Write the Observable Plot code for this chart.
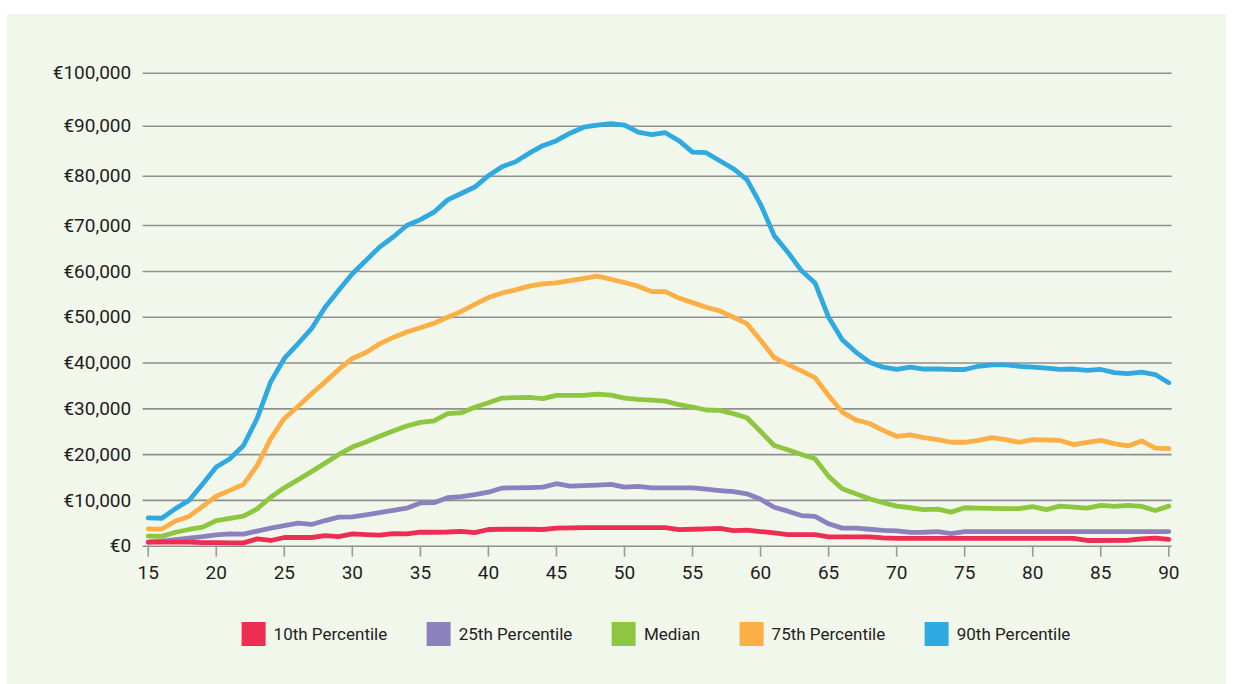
<!DOCTYPE html>
<html>
<head>
<meta charset="utf-8">
<script src="https://cdn.jsdelivr.net/npm/d3@7"></script>
<script src="https://cdn.jsdelivr.net/npm/@observablehq/plot@0.6"></script>
<style>
  html, body { margin: 0; padding: 0; background: #ffffff; }
  body { width: 1233px; height: 684px; position: relative; overflow: hidden; font-family: Roboto, "Noto Sans", sans-serif; }
  #panel { position: absolute; left: 7px; top: 14px; width: 1219px; height: 670px; background: #f2f7ec; }
  #chart { position: absolute; left: 0; top: 0; }
  #legend { position: absolute; top: 608px; left: 649px; transform: translateX(-50%); display: flex; align-items: center; gap: 39.5px; white-space: nowrap; }
  .item { display: flex; align-items: center; gap: 8px; font-size: 17px; color: #222; }
  .sw { width: 24px; height: 24px; display: inline-block; }
</style>
</head>
<body>
<div id="panel">
  <div id="chart"></div>
  <div id="legend"></div>
</div>
<script>
const ages = [15,16,17,18,19,20,21,22,23,24,25,26,27,28,29,30,31,32,33,34,35,36,37,38,39,40,41,42,43,44,45,46,47,48,49,50,51,52,53,54,55,56,57,58,59,60,61,62,63,64,65,66,67,68,69,70,71,72,73,74,75,76,77,78,79,80,81,82,83,84,85,86,87,88,89,90];

const p10 = [870,870,870,870,800,800,730,730,1600,1250,1900,1900,1900,2300,2100,2700,2550,2400,2750,2700,3050,3050,3100,3250,2950,3650,3700,3700,3700,3650,3950,4000,4050,4050,4050,4050,4050,4050,4050,3600,3700,3800,3900,3400,3500,3200,2900,2550,2550,2550,2050,2050,2050,2050,1800,1700,1700,1700,1700,1700,1700,1700,1700,1700,1700,1700,1700,1700,1700,1250,1250,1280,1300,1600,1750,1500];

const p25 = [900,1100,1450,1750,2100,2450,2700,2650,3300,3950,4500,5050,4750,5600,6350,6400,6850,7350,7850,8300,9450,9500,10600,10850,11250,11800,12700,12750,12800,12900,13650,13100,13250,13350,13500,12900,13050,12750,12750,12750,12750,12450,12150,11900,11450,10250,8500,7650,6700,6500,4900,3950,3950,3700,3450,3350,3000,3050,3200,2750,3200,3200,3200,3200,3200,3200,3200,3200,3200,3200,3200,3200,3200,3200,3200,3200];

const median = [2200,2150,3050,3650,4150,5600,6100,6550,8150,10700,12750,14500,16300,18150,20050,21650,22750,24000,25150,26250,27050,27350,28950,29150,30350,31350,32350,32450,32500,32250,32950,32950,32950,33200,33000,32350,32050,31900,31700,30900,30400,29750,29650,28950,28050,25050,22000,21050,20050,19100,15250,12550,11450,10350,9500,8750,8400,8000,8100,7450,8400,8300,8250,8200,8200,8650,8000,8750,8550,8300,8900,8700,8900,8700,7800,8750];

const p75 = [3800,3750,5500,6500,8700,10900,12200,13500,17600,23500,27900,30500,33300,35900,38600,41000,42300,44200,45600,46800,47700,48700,50000,51300,52800,54300,55300,56000,56800,57300,57500,58000,58500,59000,58300,57600,56800,55600,55600,54200,53200,52200,51400,50000,48600,45000,41200,39700,38300,36800,32900,29300,27600,26800,25300,24000,24300,23700,23300,22700,22700,23100,23700,23300,22700,23300,23200,23100,22200,22700,23100,22400,21900,23000,21400,21300];

const p90 = [6200,6100,8200,10000,13600,17300,19100,22000,27900,35900,41000,44200,47500,52200,55900,59500,62400,65300,67500,70000,71200,72700,75200,76500,77800,80100,81900,82900,84600,86100,87100,88600,89800,90200,90500,90200,88800,88300,88700,87100,84800,84700,83100,81500,79300,74300,67800,64200,60200,57500,50000,45100,42400,40200,39100,38600,39100,38700,38700,38600,38600,39300,39600,39600,39300,39100,38900,38600,38700,38400,38600,37900,37700,38000,37500,35700];

const seriesNames = ["10th Percentile", "25th Percentile", "Median", "75th Percentile", "90th Percentile"];
const seriesColors = ["#ee2d52", "#8a81be", "#8dc63f", "#fbaf44", "#2eaae1"];
const seriesValues = [p10, p25, median, p75, p90];
const xTicks = [15,20,25,30,35,40,45,50,55,60,65,70,75,80,85,90];
const yTicks = [0,10000,20000,30000,40000,50000,60000,70000,80000,90000,100000];

// The original value axis is slightly stretched above €60,000: piecewise warp of the scale
const warp = d3.scaleLinear()
  .domain([0, 60000, 70000, 80000, 90000, 100000])
  .range([0, 274.7, 320.7, 370, 420, 473]);

// Tidy table; draw order: 90th first, 10th last (on top)
const rows = [];
for (let s = seriesNames.length - 1; s >= 0; s--) {
  ages.forEach((a, i) => rows.push({age: a, value: seriesValues[s][i], series: seriesNames[s]}));
}

const fmt = d3.format(",");
const chart = Plot.plot({
  width: 1219,
  height: 580,
  marginLeft: 135.7,
  marginRight: 54.3,
  marginTop: 58.7,
  marginBottom: 48.3,
  style: {fontFamily: "Roboto, sans-serif", fontSize: "19px", color: "#1e1e1e", background: "transparent"},
  x: {domain: [14.63, 90.25], label: null},
  y: {domain: [0, 473], transform: v => warp(v), label: null},
  color: {domain: seriesNames, range: seriesColors},
  marks: [
    Plot.gridY(yTicks, {stroke: "#8f8f8f", strokeOpacity: 1, strokeWidth: 1.6}),
    Plot.axisY(yTicks, {tickSize: 0, tickPadding: 12, tickFormat: d => "€" + fmt(d), fill: "#1e1e1e", fontSize: 19}),
    Plot.axisX(xTicks, {tickSize: 11, tickPadding: 8, stroke: "#999", strokeWidth: 1.6, fill: "#1e1e1e", fontSize: 19}),
    Plot.line(rows, {x: "age", y: "value", z: "series", stroke: "series", strokeWidth: 4.8, strokeLinejoin: "round", strokeLinecap: "round"})
  ]
});
document.getElementById("chart").appendChild(chart);

const legend = document.getElementById("legend");
seriesNames.forEach((name, i) => {
  const item = document.createElement("div");
  item.className = "item";
  const sw = document.createElement("span");
  sw.className = "sw";
  sw.style.background = seriesColors[i];
  const t = document.createElement("span");
  t.textContent = name;
  item.appendChild(sw);
  item.appendChild(t);
  legend.appendChild(item);
});
</script>
</body>
</html>
